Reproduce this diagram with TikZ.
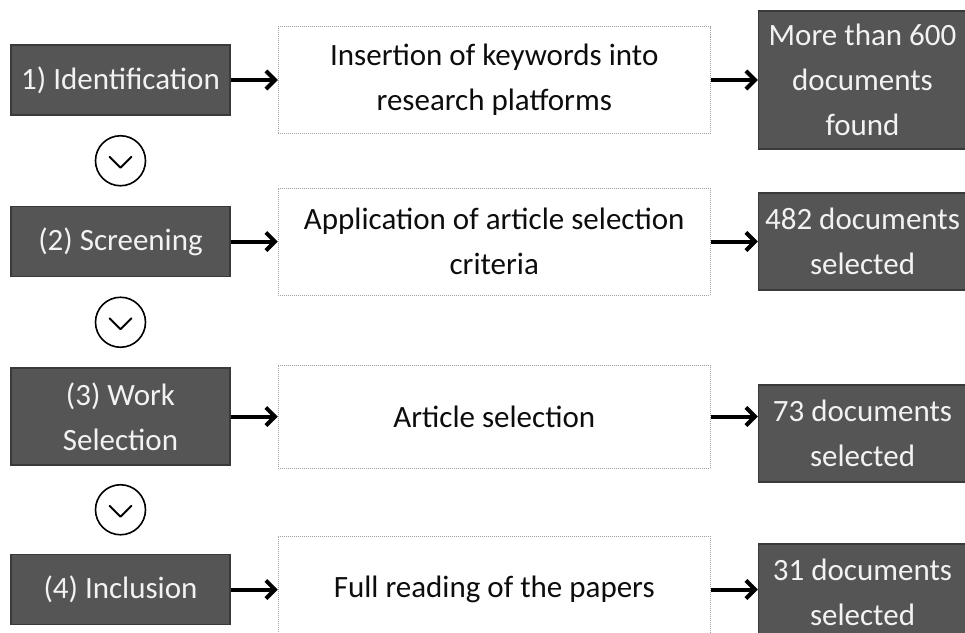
\documentclass[tikz,border=0pt]{standalone}
\usepackage{fontspec}
\setmainfont{Carlito}
\usepackage{xcolor}
\usetikzlibrary{arrows.meta,calc}
\usetikzlibrary{positioning}

\definecolor{stepgray}{HTML}{555555}
\definecolor{stepline}{HTML}{3A3A3A}
\definecolor{steptext}{HTML}{F2F2F2}
\definecolor{dotgray}{HTML}{A0A0A0}

\begin{document}
\begin{tikzpicture}[
      x=1pt, y=-1pt,
      node distance=90pt and 47pt,
      every node/.style={font=\fontsize{31pt}{45pt}\selectfont, align=center, inner sep=0pt},
      phase/.style={draw=stepline, line width=1.5pt, fill=stepgray, text=steptext, minimum width=219pt, minimum height=70pt},
      task/.style={draw=dotgray, line width=1pt, dash pattern=on 1pt off 1pt, fill=white, text=black!95, minimum width=432pt, minimum height=107pt},
      result/.style={draw=stepline, line width=1.5pt, fill=stepgray, text=steptext, minimum width=208pt, minimum height=97pt},
      chev/.style={draw=black, line width=1.6pt, circle, minimum size=50pt},
      arrow/.style={line width=4pt, -{Straight Barb[length=9pt,width=18pt]}, draw=black}
      ]
      \useasboundingbox (0,0) rectangle (965,632);
      \clip (0,0) rectangle (965,632);

      % Nodes
      \node (ident) [phase] at (120.5,80) {1) Identification};
      \node (screen) [phase, below=of ident] {(2) Screening};
      \node (work) [phase, minimum height=97pt, below=of screen] {(3) Work\\Selection};
      \node (incl) [phase, below=88pt of work] {(4) Inclusion};

      \node (kw) [task, right=of ident] {Insertion of keywords into\\research platforms};
      \node (crit) [task, right=of screen] {Application of article selection\\criteria};
      \node (sel) [task, minimum height=103pt, right=of work] {Article selection};
      \node (read) [task, right=of incl] {Full reading of the papers};

      \node (found) [result, minimum height=138pt, right=of kw] {More than 600\\documents\\found};
      \node (n482) [result, right=of crit] {482 documents\\selected};
      \node (n73) [result, right=of sel, yshift=-17pt] {73 documents\\selected};
      \node (n31) [result, right=of read, yshift=-3pt] {31 documents\\selected};

      % Step markers
      \node (c1) [chev] at ($(ident.south)!0.5!(screen.north)$) {};
      \node (c2) [chev] at ($(screen.south)!0.5!(work.north)$) {};
      \node (c3) [chev] at ($(work.south)!0.5!(incl.north)$) {};
      \foreach \c in {c1,c2,c3}
        \draw [line width=2pt, line cap=round, line join=round]
          ($(\c.center)+(-11,-4)$) -- ($(\c.center)+(0,7)$) -- ($(\c.center)+(11,-4)$);

      % Arrows
      \draw [arrow] (ident) -- (kw);
      \draw [arrow] (screen) -- (crit);
      \draw [arrow] (work) -- (sel);
      \draw [arrow] (incl) -- (read);
      \draw [arrow] (kw) -- (found);
      \draw [arrow] (crit) -- (n482);
      \draw [arrow] (sel.east) -- (sel.east -| n73.west);
      \draw [arrow] (read.east) -- (read.east -| n31.west);

    \end{tikzpicture}
\end{document}
